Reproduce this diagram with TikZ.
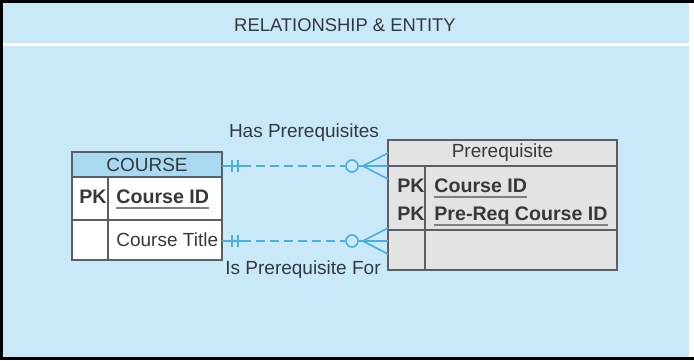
\documentclass[tikz,border=0pt]{standalone}
\usepackage{fontspec}
\setmainfont{Liberation Sans}
\usetikzlibrary{positioning}

\definecolor{bgblue}{HTML}{C9E9F9}
\definecolor{hdrblue}{HTML}{A9D9F1}
\definecolor{relblue}{HTML}{4AAEDF}
\definecolor{boxgray}{HTML}{E3E3E3}
\definecolor{txtgray}{HTML}{34393E}
\definecolor{edgegray}{HTML}{5A5F63}

\begin{document}
\begin{tikzpicture}[x=0.5pt, y=-0.5pt,
	every node/.style={text=txtgray, font=\fontsize{9.5}{11}\selectfont, inner sep=0pt},
	cell/.style={draw=edgegray, line width=0.7pt, outer sep=0pt, anchor=north west},
	attr/.style={anchor=base west},
	pkey/.style={anchor=base west, font=\fontsize{9.8}{11}\selectfont\bfseries},
	uline/.style={gray, line width=0.9pt},
	rel/.style={relblue, line width=0.8pt},
	reldash/.style={rel, dash pattern=on 4.5pt off 2.5pt},
	optional/.style={circle, draw=relblue, line width=0.8pt, fill=bgblue, minimum size=6pt}]
	\useasboundingbox (0,0) rectangle (694,360);

	% Frame and title band
	\fill[white] (0,0) rectangle (694,360);
	\fill[bgblue] (3,3) rectangle (689,357);
	\draw[white, line width=1.5pt] (3,44) -- (689,44);
	\draw[black, line width=1.5pt] (694,1.5) -- (1.5,1.5) -- (1.5,358.5) -- (694,358.5);
	\node[font=\fontsize{9.2}{11}\selectfont] (title) at (345,25) {RELATIONSHIP \& ENTITY};

	% COURSE entity
	\node[cell, fill=hdrblue, minimum width=75pt, minimum height=12.5pt] (course) at (72,152) {COURSE};
	\node[cell, fill=white, minimum width=18pt, minimum height=21.5pt, below right=0pt and 0pt of course.south west] (cpk) {};
	\node[cell, fill=white, minimum width=57pt, minimum height=21.5pt, right=0pt of cpk] (cid) {};
	\node[cell, fill=white, minimum width=18pt, minimum height=20pt, below=0pt of cpk] (cblank) {};
	\node[cell, fill=white, minimum width=57pt, minimum height=20pt, right=0pt of cblank] (ctitle) {};
	\node[pkey] (cpktxt) at (79,203) {PK};
	\node[pkey] (cidtxt) at (116,203) {Course ID};
	\node[attr] (ctitletxt) at (116,246) {Course Title};
	\draw[uline] ([yshift=-2.5pt]cidtxt.base west) -- ([yshift=-2.5pt]cidtxt.base east);

	% Prerequisite entity
	\node[cell, fill=boxgray, minimum width=114.5pt, minimum height=13pt] (prereq) at (388,140) {Prerequisite};
	\node[cell, fill=boxgray, minimum width=18.5pt, minimum height=32pt, below right=0pt and 0pt of prereq.south west] (ppk) {};
	\node[cell, fill=boxgray, minimum width=96pt, minimum height=32pt, right=0pt of ppk] (pkeys) {};
	\node[cell, fill=boxgray, minimum width=18.5pt, minimum height=20pt, below=0pt of ppk] (pblank) {};
	\node[cell, fill=boxgray, minimum width=96pt, minimum height=20pt, right=0pt of pblank] (prest) {};
	\node[pkey] (ppk1) at (397,192) {PK};
	\node[pkey] (ppk2) at (397,220) {PK};
	\node[pkey] (pcid) at (434,192) {Course ID};
	\node[pkey] (preqid) at (434,220) {Pre-Req Course ID};
	\draw[uline] ([yshift=-2.5pt]pcid.base west) -- ([yshift=-2.5pt]pcid.base east);
	\draw[uline] ([yshift=-2.5pt]preqid.base west) -- ([yshift=-2.5pt]preqid.base east);

	% Relationship ends
	\coordinate (c1) at (222,166);
	\coordinate (p1) at (388,166);
	\coordinate (c2) at (222,241);
	\coordinate (p2) at (388,241);
	\node[optional] (o1) at (352,166) {};
	\node[optional] (o2) at (352,241) {};

	% Has Prerequisites
	\draw[rel] (c1) -- ([xshift=10pt]c1);
	\draw[reldash] ([xshift=10pt]c1) -- (o1.west);
	\draw[rel] ([xshift=5pt, yshift=3pt]c1) -- ([xshift=5pt, yshift=-3pt]c1);
	\draw[rel] ([xshift=8pt, yshift=3pt]c1) -- ([xshift=8pt, yshift=-3pt]c1);
	\draw[rel] (o1.east) -- (p1);
	\draw[rel] ([xshift=2pt]o1.east) -- ([yshift=6.5pt]p1);
	\draw[rel] ([xshift=2pt]o1.east) -- ([yshift=-6.5pt]p1);
	\node (hasrel) at (304,133) {Has Prerequisites};

	% Is Prerequisite For
	\draw[rel] (c2) -- ([xshift=10pt]c2);
	\draw[reldash] ([xshift=10pt]c2) -- (o2.west);
	\draw[rel] ([xshift=5pt, yshift=3pt]c2) -- ([xshift=5pt, yshift=-3pt]c2);
	\draw[rel] ([xshift=8pt, yshift=3pt]c2) -- ([xshift=8pt, yshift=-3pt]c2);
	\draw[rel] (o2.east) -- (p2);
	\draw[rel] ([xshift=2pt]o2.east) -- ([yshift=6.5pt]p2);
	\draw[rel] ([xshift=2pt]o2.east) -- ([yshift=-6.5pt]p2);
	\node (isrel) at (303,270) {Is Prerequisite For};
\end{tikzpicture}
\end{document}
